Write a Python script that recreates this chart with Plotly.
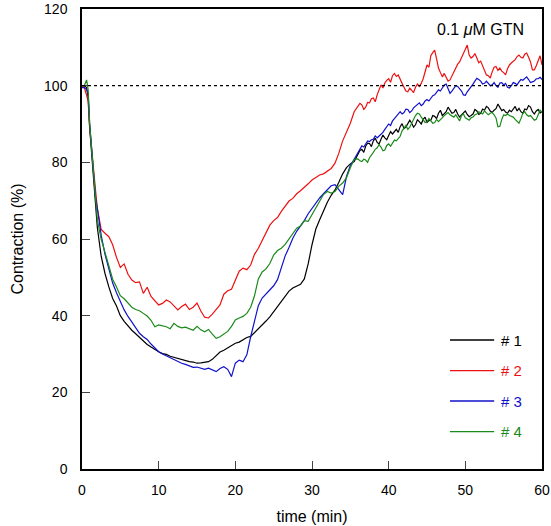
import plotly.graph_objects as go

# time points (min): dense start, 0.5-min steps, then 0.25-min steps from 36 min
time_min = ([0, 0.3, 0.6, 0.8, 1.0, 1.25, 1.5, 1.75, 2.0]
            + [2.5 + 0.5 * i for i in range(67)]
            + [36 + 0.25 * i for i in range(97)])

series_names = ["# 1", "# 2", "# 3", "# 4"]
series_colors = ["#000000", "#ee1111", "#1111cc", "#1a8a1a"]

s1_head = [100, 100, 99.5, 97, 89, 83, 76, 69, 63,
           55.5, 51, 47.5, 44.5, 42.5, 40, 38.5, 37.2, 36.2, 35.3, 34.3, 33.4, 32.5, 31.8, 31.1, 30.6, 30.1, 29.9,
           29.4, 29.1, 28.8, 28.4, 28.2, 28.0, 27.9, 27.6, 27.7, 27.9, 28.0, 28.6, 29.6, 30.5, 31.0, 31.6, 32.4,
           32.8, 33.1, 33.8, 34.3, 34.6, 35.6, 36.6, 37.4, 38.6, 39.7, 41.0, 42.6, 43.8, 45.0, 46.4, 47.2, 47.6,
           48.2, 49.6, 53.5, 58.5, 62.6, 65.0, 67.4, 69.6, 71.4, 72.8, 74.8, 77.0, 78.6, 79.6, 80.2]
s1_tail = [82.0, 83.1, 83.4, 82.6, 84.2, 85.0, 84.9, 84.1, 85.6, 86.3, 85.2, 84.8, 86.0, 87.1, 86.4, 85.9,
           87.0, 88.0, 87.4, 87.9, 88.6, 87.8, 89.3, 90.1, 88.8, 89.2, 90.0, 91.0, 90.2, 89.2, 89.8, 91.1,
           90.6, 90.0, 91.2, 91.8, 90.4, 90.9, 91.0, 92.2, 92.0, 91.4, 92.8, 93.6, 92.2, 92.6, 93.2, 94.4,
           93.7, 92.8, 93.0, 93.8, 92.6, 91.8, 92.4, 93.0, 93.4, 92.5, 91.9, 92.2, 92.6, 93.8, 93.4, 92.5,
           92.8, 93.9, 93.6, 94.6, 94.2, 93.4, 93.0, 93.6, 94.0, 95.2, 94.5, 93.5, 93.8, 93.1, 92.8, 93.6,
           93.2, 94.0, 94.6, 93.4, 94.1, 93.2, 92.8, 93.9, 93.7, 94.8, 94.4, 93.2, 92.6, 93.4, 93.8, 92.9, 93.2]

s2_head = [100, 99.5, 97.5, 96, 89, 83, 78, 73, 68,
           62.5, 61.5, 60.6, 58.5, 55.2, 52.6, 53.5, 50.8, 49.3, 48.6, 48.8, 45.8, 47.4, 45.0, 43.8, 42.8, 43.2,
           44.1, 43.6, 42.4, 41.5, 42.4, 43.0, 41.6, 42.2, 43.3, 41.2, 39.6, 39.4, 40.4, 41.6, 42.8, 45.6, 46.5,
           46.9, 49.3, 51.6, 52.4, 52.0, 53.2, 56.0, 57.6, 59.6, 62.0, 63.6, 64.8, 65.6, 67.2, 68.4, 69.9, 70.6,
           71.8, 72.6, 73.4, 74.4, 75.4, 76.0, 76.7, 77.0, 77.6, 78.4, 79.8, 82.4, 85.6, 88.0, 90.2, 93.2]
s2_tail = [94.6, 95.4, 95.0, 93.8, 94.4, 95.6, 95.5, 96.6, 96.8, 95.8, 97.6, 99.0, 100.2, 99.4, 100.7, 101.4,
           101.8, 100.9, 102.6, 103.2, 102.4, 102.8, 101.5, 100.6, 99.6, 98.6, 98.4, 99.4, 98.8, 98.2, 99.6, 100.4,
           99.8, 100.6, 101.8, 103.6, 105.4, 104.8, 107.8, 108.6, 109.3, 107.0, 104.6, 103.4, 102.3, 103.2, 102.2,
           101.2, 101.5, 102.6, 103.4, 104.4, 105.6, 106.2, 107.4, 108.6, 109.3, 110.6, 108.0, 107.2, 107.6,
           108.4, 107.2, 106.0, 106.4, 105.2, 103.8, 102.8, 102.6, 102.0, 103.6, 104.8, 105.0, 104.0, 104.6,
           103.8, 103.4, 102.8, 104.4, 105.4, 105.9, 106.4, 106.8, 107.6, 108.0, 107.4, 107.2, 108.2, 108.5,
           107.4, 106.2, 104.1, 104.1, 105.2, 106.6, 107.8, 105.4]

s3_head = [99.5, 99.5, 99.0, 98, 90, 84, 78, 71, 68,
           61, 56, 52, 48.5, 46, 43.5, 41.5, 39.8, 38.3, 36.8, 35.4, 34.5, 33.8, 32.6, 31.5, 30.6, 30.0, 29.5,
           29.0, 28.5, 28.0, 27.6, 27.3, 26.9, 26.5, 26.6, 26.2, 26.0, 26.3, 25.8, 25.4, 26.2, 26.7, 26.0, 24.1,
           27.6, 28.4, 28.0, 29.8, 34.5, 38.2, 42.6, 44.6, 45.6, 46.6, 47.8, 49.4, 52.4, 55.6, 57.8, 60.2, 62.0,
           63.4, 64.8, 66.6, 68.0, 69.2, 70.7, 71.8, 73.0, 73.9, 74.2, 72.8, 71.6, 76.3, 79.2, 80.8]
s3_tail = [82.6, 83.8, 84.3, 84.0, 85.0, 85.6, 85.4, 85.9, 86.0, 86.9, 86.4, 86.8, 87.2, 87.8, 88.6, 89.4,
           90.0, 89.6, 90.8, 91.4, 92.0, 92.6, 93.2, 92.6, 93.0, 93.9, 93.8, 93.0, 93.4, 94.2, 94.6, 95.2,
           95.5, 94.8, 95.2, 96.0, 96.4, 96.0, 96.8, 97.4, 97.6, 98.2, 98.9, 98.6, 99.6, 100.2, 100.4, 99.0,
           98.0, 98.6, 99.2, 100.0, 99.8, 99.2, 98.6, 97.6, 97.5, 98.4, 99.0, 99.8, 100.4, 101.2, 101.9, 101.6,
           101.2, 100.4, 100.6, 101.2, 100.7, 100.0, 100.2, 100.8, 100.0, 99.6, 100.7, 100.8, 100.2, 100.6,
           99.6, 99.4, 100.0, 100.8, 100.6, 100.2, 101.0, 101.6, 101.4, 101.8, 102.3, 101.6, 100.8, 101.0,
           101.2, 101.8, 101.8, 102.2, 101.6]

s4_head = [100, 100, 101.5, 99, 90, 84, 78, 71, 65,
           60, 56.3, 52.5, 49.5, 47.5, 45.2, 44.4, 43.4, 42.2, 41.6, 41.3, 40.6, 39.9, 38.8, 37.1, 37.6, 37.4,
           37.1, 36.6, 38.0, 37.2, 36.8, 37.0, 36.6, 36.2, 37.2, 36.3, 35.8, 36.4, 35.2, 34.1, 34.5, 35.2, 35.9,
           37.2, 38.9, 39.4, 39.8, 40.6, 42.2, 45.2, 49.6, 51.4, 52.2, 53.6, 55.8, 57.0, 57.6, 58.6, 60.0, 61.4,
           62.8, 63.4, 64.8, 64.6, 66.4, 67.9, 70.0, 71.6, 72.4, 72.0, 72.4, 73.8, 74.6, 76.0, 78.6, 80.8]
s4_tail = [80.9, 80.4, 80.2, 80.8, 80.6, 80.0, 81.2, 81.8, 82.6, 83.4, 83.8, 84.6, 84.0, 83.0, 83.2, 84.4,
           84.8, 84.2, 85.2, 85.8, 85.6, 86.2, 86.8, 88.2, 89.0, 89.6, 88.6, 89.2, 90.2, 91.4, 92.2, 92.8,
           92.6, 91.8, 91.0, 90.4, 90.6, 91.4, 90.8, 90.2, 90.4, 91.2, 90.6, 91.2, 91.6, 92.2, 92.6, 93.0,
           92.4, 92.0, 91.8, 92.4, 91.4, 90.8, 92.2, 92.6, 91.6, 91.2, 91.0, 91.6, 91.8, 92.4, 92.6, 93.2,
           93.0, 92.6, 93.4, 93.0, 92.4, 92.8, 93.0, 92.4, 91.6, 89.3, 89.4, 91.2, 92.4, 92.2, 92.6, 92.2,
           92.0, 91.8, 91.2, 90.6, 90.2, 91.4, 92.8, 93.2, 92.4, 92.0, 92.2, 91.6, 91.0, 91.2, 92.6, 93.6, 93.0]

series_values = [s1_head + s1_tail, s2_head + s2_tail, s3_head + s3_tail, s4_head + s4_tail]

x_ticks = [0, 10, 20, 30, 40, 50, 60]
y_ticks = [0, 20, 40, 60, 80, 100, 120]
ref_level = 100

FONT = "Liberation Sans, Arial, Helvetica, sans-serif"

fig = go.Figure()
for name, color, vals in zip(series_names, series_colors, series_values):
    fig.add_trace(go.Scatter(x=time_min[:len(vals)], y=vals, mode="lines", name=name,
                             line=dict(color=color, width=1.2), showlegend=False))

# dotted 100% reference line
fig.add_shape(type="line", xref="x", yref="y", x0=x_ticks[0], x1=x_ticks[-1],
              y0=ref_level, y1=ref_level, line=dict(color="black", width=1.3, dash="dot"))

# manual legend
leg_y = [0.2804, 0.2137, 0.1478, 0.0811]
for name, color, ly in zip(series_names, series_colors, leg_y):
    fig.add_shape(type="line", xref="paper", yref="paper", x0=0.800, x1=0.896, y0=ly, y1=ly,
                  line=dict(color=color, width=1.3))
    fig.add_annotation(xref="paper", yref="paper", x=0.906, y=ly, text=name, showarrow=False,
                       xanchor="left", yanchor="middle", font=dict(family=FONT, size=15, color=color))

fig.add_annotation(xref="paper", yref="paper", x=0.966, y=0.955, text="0.1 <i>μ</i>M GTN",
                   showarrow=False, xanchor="right", yanchor="middle",
                   font=dict(family=FONT, size=16, color="black"))

axis_common = dict(showline=True, linecolor="black", linewidth=1.5, mirror=True,
                   ticks="inside", ticklen=8, tickcolor="#444", tickwidth=1,
                   showgrid=False, zeroline=False, automargin=False,
                   tickfont=dict(family=FONT, size=14, color="black"))

fig.update_xaxes(range=[0, 60], tickvals=x_ticks, ticklabelstandoff=7,
                 title=dict(text="time (min)", font=dict(family=FONT, size=16, color="black"), standoff=14),
                 **axis_common)
fig.update_yaxes(range=[0, 120], tickvals=y_ticks, ticklabelstandoff=10,
                 title=dict(text="Contraction (%)", font=dict(family=FONT, size=16, color="black"), standoff=16),
                 **axis_common)

fig.update_layout(width=551, height=526, margin=dict(l=82, r=9, t=9, b=57),
                  paper_bgcolor="white", plot_bgcolor="white",
                  font=dict(family=FONT, color="black"))

fig.write_html("out.html")
